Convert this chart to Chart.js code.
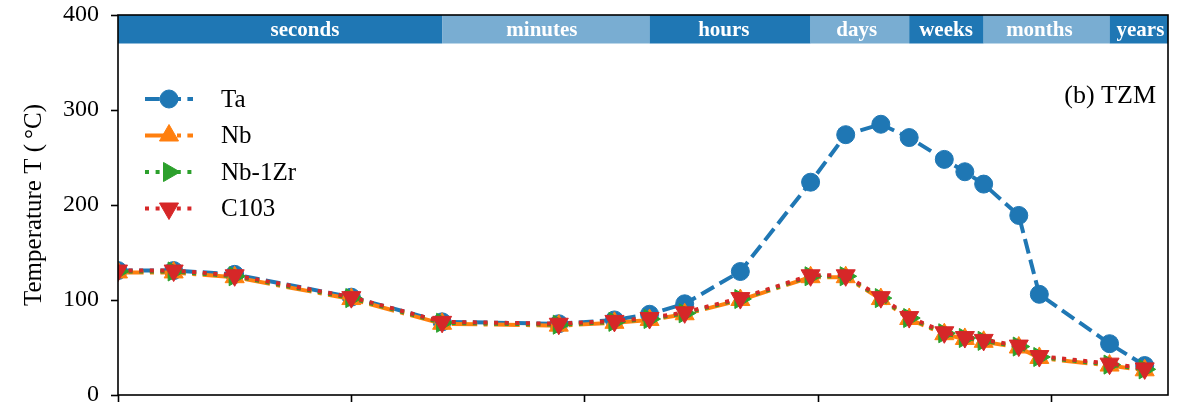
<!DOCTYPE html>
<html>
<head>
<meta charset="utf-8">
<script src="https://cdn.jsdelivr.net/npm/chart.js@4/dist/chart.umd.min.js"></script>
<style>
  html, body { margin: 0; padding: 0; background: #ffffff; }
  canvas { display: block; }
</style>
</head>
<body>
<canvas id="chart" width="1184" height="407"></canvas>
<script>
// Elapsed time of each sample, in seconds
const timeSeconds = [0.1, 0.3, 1, 10, 60, 600, 1800, 3600, 7200, 21600, 86400, 172800,
                     345600, 604800, 1209600, 1814400, 2629800, 5259600, 7889400, 31557600, 63115200];

// Temperature (°C) for each alloy
const tempTa    = [131, 131, 127, 103, 77, 75, 79, 85, 96, 130, 224, 274, 285, 271, 248, 235, 222, 189, 106, 54, 31];
const tempNb    = [129, 129, 124, 101, 75, 73, 76, 79, 85, 100, 124, 124, 101, 80, 64, 59, 56, 50, 39, 31, 26];
const tempNb1Zr = [130, 130, 125, 102, 76, 74, 77, 80, 86, 101, 125, 125, 102, 81, 65, 60, 57, 51, 40, 32, 27];
const tempC103  = [131, 131, 126, 103, 77, 75, 78, 81, 87, 102, 126, 126, 103, 82, 66, 61, 58, 52, 41, 33, 28];

const seriesNames = ['Ta', 'Nb', 'Nb-1Zr', 'C103'];

// Tick positions on the time axis (seconds) and on the temperature axis
const xTickValues = [0.1, 10, 1000, 100000, 10000000];
const yTickValues = [0, 100, 200, 300, 400];

// Time-scale band across the top of the plot: band edges and where each name sits (seconds)
const periodNames   = ['seconds', 'minutes', 'hours', 'days', 'weeks', 'months', 'years'];
const periodBounds  = [0.1, 60, 3600, 86400, 604800, 2629800, 31557600, 1e8];
const periodLabelAt = [4, 430, 15600, 215000, 1250000, 7900000, 58000000];

const panelLabel = '(b) TZM';
const yAxisTitle = 'Temperature T (\u2009°C)';

const SERIF = '"Liberation Serif", "DejaVu Serif", serif';
const BLUE = '#1f77b4', ORANGE = '#ff7f0e', GREEN = '#2ca02c', RED = '#d62728';
const BAND_DARK = '#1f77b4', BAND_LIGHT = '#79add2';

const toPoints = arr => arr.map((v, i) => ({ x: timeSeconds[i], y: v }));

const LW = 4;
const datasets = [
  { label: seriesNames[0], data: toPoints(tempTa), borderColor: BLUE, backgroundColor: BLUE,
    borderDash: [3.7 * LW, 1.6 * LW], pointStyle: 'circle', pointRadius: 9, pointRotation: 0, order: 4 },
  { label: seriesNames[1], data: toPoints(tempNb), borderColor: ORANGE, backgroundColor: ORANGE,
    borderDash: [6.4 * LW, 1.6 * LW, 1 * LW, 1.6 * LW], pointStyle: 'triangle', pointRadius: 11, pointRotation: 0, order: 3 },
  { label: seriesNames[2], data: toPoints(tempNb1Zr), borderColor: GREEN, backgroundColor: GREEN,
    borderDash: [1 * LW, 1.65 * LW], pointStyle: 'triangle', pointRadius: 11, pointRotation: 90, order: 2 },
  { label: seriesNames[3], data: toPoints(tempC103), borderColor: RED, backgroundColor: RED,
    borderDash: [1 * LW, 1.65 * LW], pointStyle: 'triangle', pointRadius: 11, pointRotation: 180, order: 1 }
].map(d => Object.assign({
  borderWidth: LW, pointBorderColor: d.borderColor, pointBackgroundColor: d.borderColor,
  pointBorderWidth: 1, pointHoverRadius: d.pointRadius, fill: false, tension: 0,
  borderCapStyle: 'butt', borderJoinStyle: 'round'
}, d));

function drawMarker(ctx, style, rotationDeg, r, x, y, color) {
  ctx.save();
  ctx.fillStyle = color;
  ctx.strokeStyle = color;
  ctx.lineWidth = 1;
  ctx.setLineDash([]);
  ctx.beginPath();
  if (style === 'circle') {
    ctx.arc(x, y, r, 0, Math.PI * 2);
  } else {
    let a = rotationDeg * Math.PI / 180;
    for (let k = 0; k < 3; k++) {
      const px = x + Math.sin(a) * r, py = y - Math.cos(a) * r;
      if (k === 0) ctx.moveTo(px, py); else ctx.lineTo(px, py);
      a += 2 * Math.PI / 3;
    }
    ctx.closePath();
  }
  ctx.fill();
  ctx.stroke();
  ctx.restore();
}

// Coloured period band along the top edge of the plot area
const periodBandPlugin = {
  id: 'periodBand',
  beforeDatasetsDraw(chart) {
    const { ctx, scales: { x, y } } = chart;
    const yTop = y.getPixelForValue(400), yBot = y.getPixelForValue(370);
    ctx.save();
    for (let i = 0; i < periodNames.length; i++) {
      const x0 = x.getPixelForValue(periodBounds[i]);
      const x1 = x.getPixelForValue(periodBounds[i + 1]);
      ctx.fillStyle = i % 2 === 0 ? BAND_DARK : BAND_LIGHT;
      ctx.fillRect(x0, yTop, x1 - x0, yBot - yTop);
      ctx.fillStyle = '#ffffff';
      ctx.font = 'bold 21px ' + SERIF;
      ctx.textAlign = 'center';
      ctx.textBaseline = 'middle';
      ctx.fillText(periodNames[i], x.getPixelForValue(periodLabelAt[i]), (yTop + yBot) / 2 + 1);
    }
    ctx.restore();
  }
};

// Axes frame, panel label and the in-plot legend
const framePlugin = {
  id: 'frameAndLegend',
  afterDatasetsDraw(chart) {
    const { ctx, chartArea: a, scales: { y } } = chart;
    ctx.save();
    ctx.strokeStyle = '#000000';
    ctx.lineWidth = 1.6;
    ctx.setLineDash([]);
    ctx.strokeRect(a.left, a.top, a.right - a.left, a.bottom - a.top);

    ctx.fillStyle = '#000000';
    ctx.font = '26px ' + SERIF;
    ctx.textAlign = 'right';
    ctx.textBaseline = 'middle';
    ctx.fillText(panelLabel, a.right - 12, y.getPixelForValue(315));

    ctx.font = '25px ' + SERIF;
    const lx = a.left + 27, len = 48, tx = a.left + 103;
    chart.data.datasets.forEach((ds, i) => {
      const ry = a.top + 84 + i * 36.5;
      ctx.save();
      ctx.strokeStyle = ds.borderColor;
      ctx.lineWidth = ds.borderWidth;
      ctx.lineCap = 'butt';
      ctx.setLineDash(ds.borderDash);
      ctx.beginPath();
      ctx.moveTo(lx, ry);
      ctx.lineTo(lx + len, ry);
      ctx.stroke();
      ctx.restore();
      drawMarker(ctx, ds.pointStyle, ds.pointRotation, ds.pointRadius, lx + len / 2, ry, ds.borderColor);
      ctx.fillStyle = '#000000';
      ctx.textAlign = 'left';
      ctx.fillText(ds.label, tx, ry + 1);
    });
    ctx.restore();
  }
};

const noPadding = s => { s.paddingTop = 0; s.paddingBottom = 0; s.paddingLeft = 0; s.paddingRight = 0; };

new Chart(document.getElementById('chart'), {
  type: 'line',
  data: { datasets },
  options: {
    responsive: false,
    animation: false,
    devicePixelRatio: 1,
    layout: { padding: { top: 15, right: 16, left: 0, bottom: 0 } },
    plugins: { legend: { display: false }, tooltip: { enabled: false } },
    scales: {
      x: {
        type: 'logarithmic',
        min: 0.1,
        max: 1e8,
        afterBuildTicks: s => { s.ticks = xTickValues.map(v => ({ value: v })); },
        afterFit: s => { s.height = 11; noPadding(s); },
        ticks: { display: false },
        grid: { drawOnChartArea: false, drawTicks: true, tickLength: 7, tickColor: '#000', tickWidth: 1.6 },
        border: { display: false }
      },
      y: {
        type: 'linear',
        min: 0,
        max: 400,
        afterBuildTicks: s => { s.ticks = yTickValues.map(v => ({ value: v })); },
        afterFit: s => { s.width = 118; noPadding(s); },
        ticks: { color: '#000', font: { family: SERIF, size: 24 }, padding: 12 },
        grid: { drawOnChartArea: false, drawTicks: true, tickLength: 7, tickColor: '#000', tickWidth: 1.6 },
        border: { display: false },
        title: {
          display: true, text: yAxisTitle, color: '#000',
          font: { family: SERIF, size: 25 }, padding: { top: 19, bottom: 0 }
        }
      }
    }
  },
  plugins: [periodBandPlugin, framePlugin]
});
</script>
</body>
</html>
